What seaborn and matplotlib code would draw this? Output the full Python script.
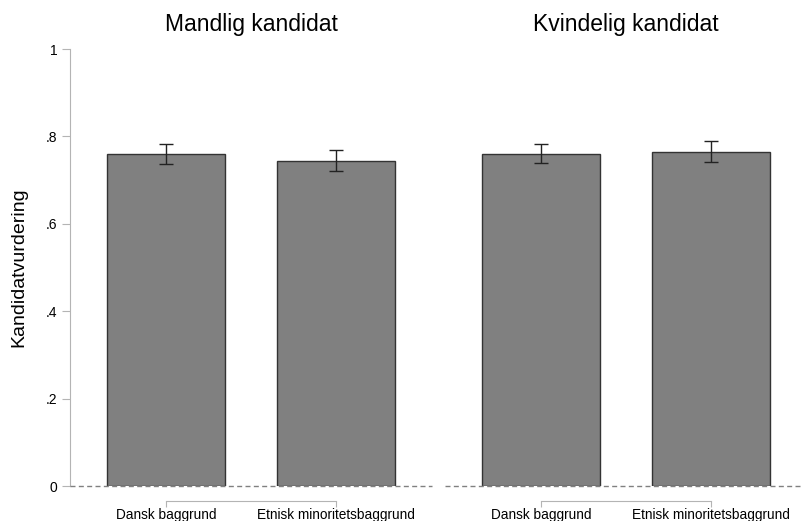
import pandas as pd
import numpy as np
import seaborn as sns
import matplotlib.pyplot as plt

# Data
panels = ["Mandlig kandidat", "Kvindelig kandidat"]
groups = ["Dansk baggrund", "Etnisk minoritetsbaggrund"]
means = [[0.760, 0.744], [0.759, 0.764]]
ci_low = [[0.736, 0.721], [0.738, 0.741]]
ci_high = [[0.783, 0.770], [0.782, 0.789]]
yticks = [0, 0.2, 0.4, 0.6, 0.8, 1]
ytick_labels = ["0", ".2", ".4", ".6", ".8", "1"]

sns.set_style("white")
plt.rcParams['font.family'] = ['Liberation Sans', 'DejaVu Sans']
plt.rcParams['text.color'] = 'black'
plt.rcParams['axes.labelcolor'] = 'black'
plt.rcParams['xtick.color'] = 'black'
plt.rcParams['ytick.color'] = 'black'

axis_col = "#b4b4b4"

fig = plt.figure(figsize=(8.02, 5.21), dpi=100)
W, H = 802, 521
axes = [fig.add_axes([70 / W, 35 / H, 362 / W, 437 / H]),
        fig.add_axes([445 / W, 35 / H, 362 / W, 437 / H])]

for i, ax in enumerate(axes):
    df = pd.DataFrame({"group": groups, "mean": means[i]})
    sns.barplot(data=df, x="group", y="mean", ax=ax, color="#808080",
                saturation=1, errorbar=None, width=0.694,
                edgecolor="#333333", linewidth=1)
    lo = np.array(means[i]) - np.array(ci_low[i])
    hi = np.array(ci_high[i]) - np.array(means[i])
    ax.errorbar(range(len(groups)), means[i], yerr=[lo, hi], fmt="none",
                ecolor="#222222", elinewidth=1, capsize=5, capthick=1)
    ax.axhline(0, color="#808080", lw=1, dashes=(3.6, 2.4), clip_on=False, zorder=5)

    ax.set_xlim(-0.565, 1.565)
    ax.set_ylim(0, 1)
    ax.set_xlabel("")
    ax.set_title(panels[i], fontsize=16.5, pad=13, color="black")

    sns.despine(ax=ax)
    ax.spines["bottom"].set_position(("outward", 11))
    ax.spines["bottom"].set_bounds(0, 1)
    ax.spines["bottom"].set_color(axis_col)
    ax.tick_params(axis="x", bottom=True, length=4.5, color=axis_col,
                   labelcolor="black", labelsize=9.8, pad=0.5)
    ax.set_xticks([0, 1])
    ax.set_xticklabels(groups)

    if i == 0:
        ax.spines["left"].set_bounds(0, 1)
        ax.spines["left"].set_color(axis_col)
        ax.set_yticks(yticks)
        ax.set_yticklabels(ytick_labels)
        ax.tick_params(axis="y", left=True, length=6, color=axis_col,
                       labelcolor="black", labelsize=10, pad=3)
        ax.set_ylabel("Kandidatvurdering", fontsize=14, color="black")
        ax.yaxis.set_label_coords(-0.119, 0.5)
    else:
        ax.spines["left"].set_visible(False)
        ax.set_yticks([])
        ax.set_ylabel("")

fig.savefig("out.png", dpi=100)
